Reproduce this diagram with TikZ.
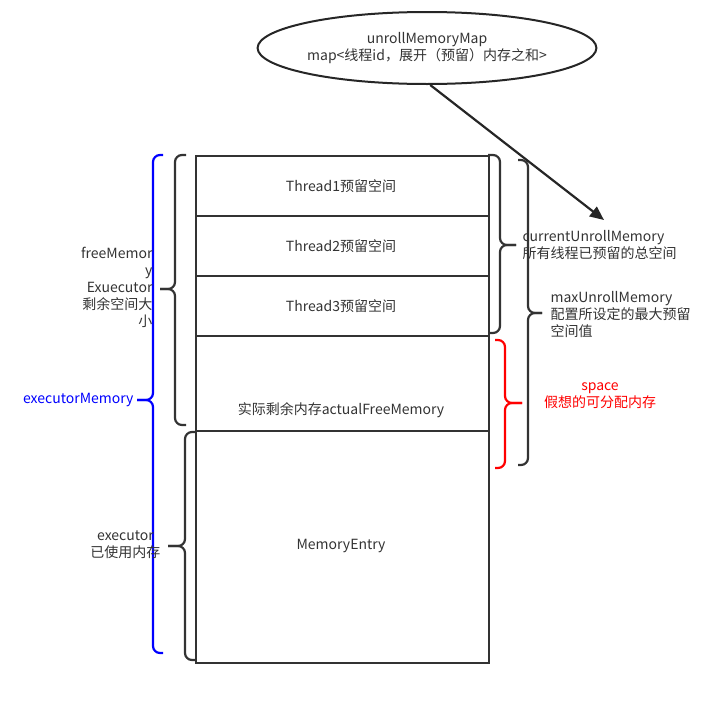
\documentclass[tikz,border=0pt]{standalone}
\usepackage{fontspec}
\setmainfont{Noto Sans CJK SC}
\usetikzlibrary{arrows.meta,shapes.geometric}
\newcommand\mybrc[7]{%
 \draw[#7,rounded corners=7pt] (#1,#4) -- (#2,#4) -- (#2,#6) -- (#3,#6);
 \draw[#7,rounded corners=7pt] (#1,#5) -- (#2,#5) -- (#2,#6) -- (#3,#6);}
\begin{document}
\begin{tikzpicture}[x=1pt,y=-1pt,
 box/.style={draw=black!80,line width=2pt,minimum width=293pt,anchor=north west,inner sep=0pt},
 txt/.style={font=\fontsize{14}{17}\selectfont,text=black!80,align=center},
 br/.style={line width=2.2pt,draw=black!80}]
\useasboundingbox (0,0) rectangle (713,707);
\node[box,minimum height=60pt] (t1) at (195,155) {};
\node[box,minimum height=60pt] (t2) at (195,215) {};
\node[box,minimum height=60pt] (t3) at (195,275) {};
\node[box,minimum height=95pt] (af) at (195,335) {};
\node[box,minimum height=232pt] (me) at (195,430) {};
\node[txt] (t1l) at (341,186) {Thread1预留空间};
\node[txt] (t2l) at (341,246) {Thread2预留空间};
\node[txt] (t3l) at (341,306) {Thread3预留空间};
\node[txt] (afl) at (341,410) {实际剩余内存actualFreeMemory};
\node[txt] (mel) at (341,546) {MemoryEntry};
\node[draw=black!85,line width=2pt,ellipse,minimum width=312pt,minimum height=72pt,inner sep=0pt,txt,fill=white] (um) at (427,48) {unrollMemoryMap\\map<线程id，展开（预留）内存之和>};
\coordinate (ae) at (604,220);
\draw[line width=2.2pt,draw=black!85,-{Triangle[length=14pt,width=12pt]}] (um.-85) -- (ae);
% braces
\mybrc{186}{175}{160}{155}{425}{289}{br}
\mybrc{163}{153}{137}{155}{653}{400}{line width=2.2pt,draw=blue}
\mybrc{195}{185}{168}{432}{660}{546}{br}
\mybrc{488}{500}{516}{155}{333}{245}{br}
\mybrc{518}{528}{542}{160}{465}{313}{br}
\mybrc{495}{505}{522}{340}{468}{403}{line width=2.2pt,draw=red}
% labels
\node[txt,align=right,anchor=east] (fm) at (156,287) {freeMemor\\y\\Exuecutor\\剩余空间大\\小};
\node[txt,text=blue,anchor=east] (em) at (137,400) {executorMemory};
\node[txt,anchor=east] (ex) at (164,545) {executor\\已使用内存};
\node[txt,align=left,anchor=west] (cu) at (519,245) {currentUnrollMemory\\所有线程已预留的总空间};
\node[txt,align=left,anchor=west] (mu) at (547,314) {maxUnrollMemory\\配置所设定的最大预留\\空间值};
\node[txt,text=red] (sp) at (600,396) {space\\假想的可分配内存};
\end{tikzpicture}
\end{document}
